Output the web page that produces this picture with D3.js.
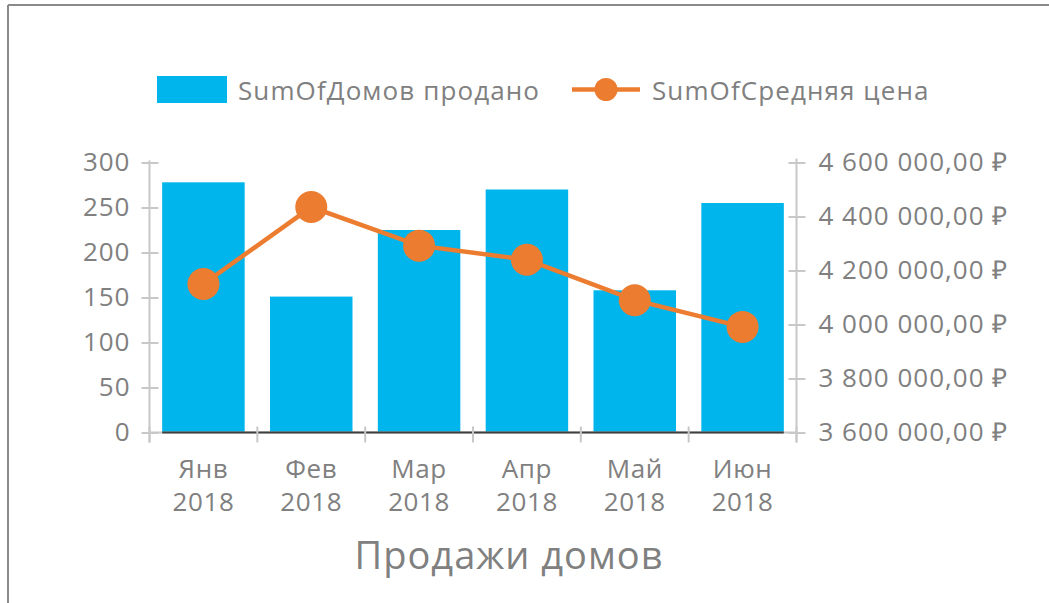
<!DOCTYPE html>
<html>
<head>
<meta charset="utf-8">
<script src="https://cdn.jsdelivr.net/npm/d3@7"></script>
<style>
    body { margin: 0; background: #fff; }
    svg text { font-family: "Open Sans", sans-serif; fill: #808080; }
</style>
</head>
<body>
<svg width="1049" height="603"></svg>
<script>
const months = ['Янв', 'Фев', 'Мар', 'Апр', 'Май', 'Июн'];
const years = ['2018', '2018', '2018', '2018', '2018', '2018'];
const sold = [278, 151, 225, 270, 158, 255];
const price = [4150000, 4435000, 4292000, 4240000, 4090000, 3991000];
const leftTicks = [0, 50, 100, 150, 200, 250, 300];
const rightTicks = [3600000, 3800000, 4000000, 4200000, 4400000, 4600000];

const blue = '#00b5ec';
const orange = '#ec7c30';
const grid = '#c8c8c8';

const svg = d3.select('svg');

// frame: only top and left edges
svg.append('line').attr('x1', 8).attr('x2', 1049).attr('y1', 5).attr('y2', 5)
    .attr('stroke', '#8a8a8a').attr('stroke-width', 2);
svg.append('line').attr('x1', 8).attr('x2', 8).attr('y1', 5).attr('y2', 603)
    .attr('stroke', '#8a8a8a').attr('stroke-width', 2);

const plotL = 149.5, plotR = 796.5, plotT = 162.5, plotB = 432.5;

const x = d3.scaleBand().domain(months).range([plotL, plotR])
    .paddingInner(0.235).paddingOuter(0.1175);
const yL = d3.scaleLinear().domain([0, 300]).range([plotB, plotT]);
const yR = d3.scaleLinear().domain([3600000, 4600000]).range([plotB, plotT]);

const fmt = d => d3.format(',.2f')(d).replace(/,/g, ' ').replace('.', ',') + ' ₽';

// left axis
const gl = svg.append('g').attr('transform', `translate(${plotL},0)`)
    .call(d3.axisLeft(yL).tickValues(leftTicks).tickSize(8).tickPadding(12));
gl.select('.domain').remove();
gl.selectAll('.tick line').attr('stroke', grid).attr('stroke-width', 2).attr('x2', 9).attr('x1', -8);
gl.selectAll('.tick text').attr('font-size', 26).attr('letter-spacing', 1)
    .style('font-family', '"Open Sans", sans-serif')
    .attr('fill', '#808080').attr('x', -19);
gl.append('line').attr('y1', plotT - 2).attr('y2', plotB + 10)
    .attr('stroke', grid).attr('stroke-width', 2);

// right axis
const gr = svg.append('g').attr('transform', `translate(${plotR},0)`)
    .call(d3.axisRight(yR).tickValues(rightTicks).tickFormat(fmt).tickSize(8).tickPadding(14));
gr.select('.domain').remove();
gr.selectAll('.tick line').attr('stroke', grid).attr('stroke-width', 2).attr('x1', -8).attr('x2', 9);
gr.selectAll('.tick text').attr('font-size', 26).attr('letter-spacing', 1)
    .style('font-family', '"Open Sans", sans-serif')
    .attr('fill', '#808080').attr('x', 22);
gr.append('line').attr('y1', plotT - 4).attr('y2', plotB + 10)
    .attr('stroke', grid).attr('stroke-width', 2);

// bars
svg.selectAll('rect.bar').data(sold).join('rect').attr('class', 'bar')
    .attr('x', (d, i) => x(months[i]))
    .attr('width', x.bandwidth())
    .attr('y', d => yL(d))
    .attr('height', d => yL(0) - yL(d))
    .attr('fill', blue);

// x axis: gray line plus dark base under the bars
svg.append('line').attr('x1', plotL).attr('x2', plotR).attr('y1', plotB).attr('y2', plotB)
    .attr('stroke', grid).attr('stroke-width', 2);
svg.append('line')
    .attr('x1', x(months[0])).attr('x2', x(months[months.length - 1]) + x.bandwidth())
    .attr('y1', plotB).attr('y2', plotB)
    .attr('stroke', '#404040').attr('stroke-width', 2);
const step = x.step();
svg.selectAll('line.xtick').data(d3.range(months.length + 1)).join('line').attr('class', 'xtick')
    .attr('x1', i => plotL + i * step).attr('x2', i => plotL + i * step)
    .attr('y1', plotB - 6).attr('y2', plotB + 10)
    .attr('stroke', grid).attr('stroke-width', 2);

const xl = svg.selectAll('text.xlab').data(months).join('text').attr('class', 'xlab')
    .attr('text-anchor', 'middle').attr('font-size', 26).attr('letter-spacing', 0.6)
    .attr('transform', d => `translate(${x(d) + x.bandwidth() / 2},0)`);
xl.append('tspan').attr('x', 0).attr('y', 478).text(d => d);
xl.append('tspan').attr('x', 0).attr('y', 511).text((d, i) => years[i]);

// line series
const line = d3.line().x((d, i) => x(months[i]) + x.bandwidth() / 2).y(d => yR(d));
svg.append('path').datum(price).attr('d', line)
    .attr('fill', 'none').attr('stroke', orange).attr('stroke-width', 4.5);
svg.selectAll('circle.pt').data(price).join('circle').attr('class', 'pt')
    .attr('cx', (d, i) => x(months[i]) + x.bandwidth() / 2)
    .attr('cy', d => yR(d))
    .attr('r', 16).attr('fill', orange);

// legend
svg.append('rect').attr('x', 157).attr('y', 76).attr('width', 70).attr('height', 27).attr('fill', blue);
svg.append('text').attr('x', 238).attr('y', 100).attr('font-size', 26).attr('letter-spacing', 1.1)
    .text('SumOfДомов продано');
svg.append('line').attr('x1', 572).attr('x2', 640).attr('y1', 89.5).attr('y2', 89.5)
    .attr('stroke', orange).attr('stroke-width', 4.5);
svg.append('circle').attr('cx', 606).attr('cy', 89.5).attr('r', 11.5).attr('fill', orange);
svg.append('text').attr('x', 652).attr('y', 100).attr('font-size', 26).attr('letter-spacing', 1.1)
    .text('SumOfСредняя цена');

// title
svg.append('text').attr('x', 509).attr('y', 569).attr('text-anchor', 'middle')
    .attr('font-size', 38).attr('letter-spacing', 1).text('Продажи домов');
</script>
</body>
</html>
